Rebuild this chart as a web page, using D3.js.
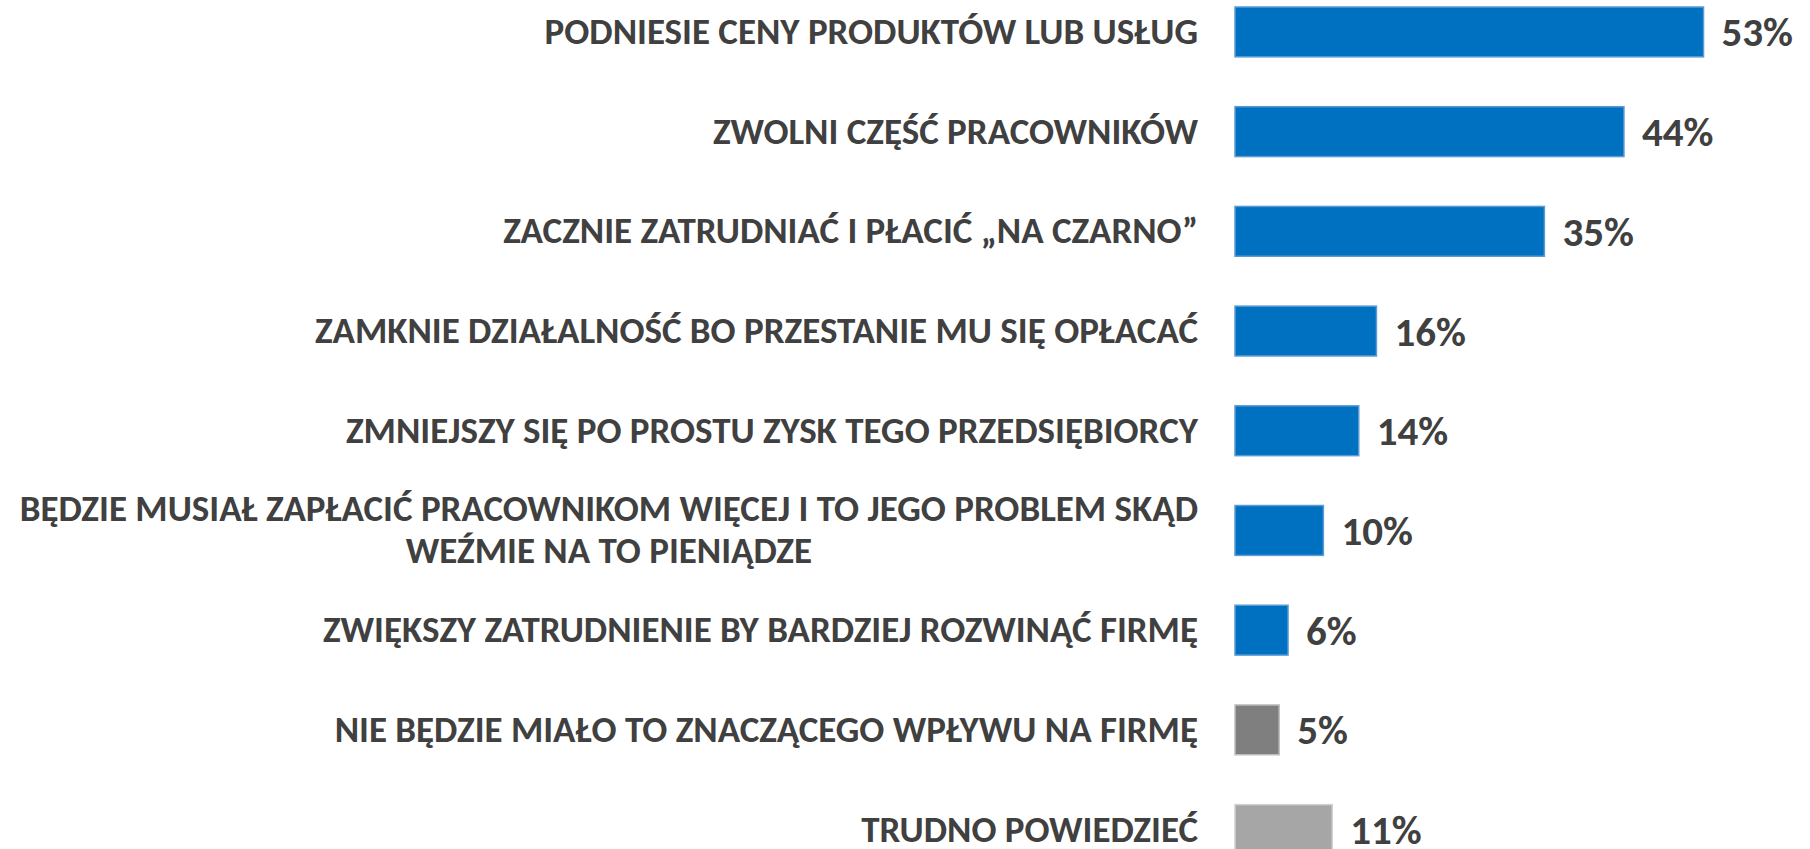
<!DOCTYPE html>
<html>
<head>
<meta charset="utf-8">
<script src="https://cdn.jsdelivr.net/npm/d3@7"></script>
<style>
  html, body { margin: 0; padding: 0; background: #ffffff; overflow: hidden; }
  svg { display: block; }
  text { font-family: Carlito, "Open Sans", Lato, sans-serif; font-weight: 700; fill: #404040; }
</style>
</head>
<body>
<svg id="chart" width="1810" height="849"></svg>
<script>
const categories = [
  ["PODNIESIE CENY PRODUKTÓW LUB USŁUG"],
  ["ZWOLNI CZĘŚĆ PRACOWNIKÓW"],
  ["ZACZNIE ZATRUDNIAĆ I PŁACIĆ „NA CZARNO”"],
  ["ZAMKNIE DZIAŁALNOŚĆ BO PRZESTANIE MU SIĘ OPŁACAĆ"],
  ["ZMNIEJSZY SIĘ PO PROSTU ZYSK TEGO PRZEDSIĘBIORCY"],
  ["BĘDZIE MUSIAŁ ZAPŁACIĆ PRACOWNIKOM WIĘCEJ I TO JEGO PROBLEM SKĄD", "WEŹMIE NA TO PIENIĄDZE"],
  ["ZWIĘKSZY ZATRUDNIENIE BY BARDZIEJ ROZWINĄĆ FIRMĘ"],
  ["NIE BĘDZIE MIAŁO TO ZNACZĄCEGO WPŁYWU NA FIRMĘ"],
  ["TRUDNO POWIEDZIEĆ"]
];
const values = [53, 44, 35, 16, 14, 10, 6, 5, 11];
const valueLabels = ["53%", "44%", "35%", "16%", "14%", "10%", "6%", "5%", "11%"];
const groups = ["blue", "blue", "blue", "blue", "blue", "blue", "blue", "dark", "light"];

const fills = { blue: "#0070C0", dark: "#7F7F7F", light: "#A6A6A6" };
const strokes = { blue: "#5B9BD5", dark: "#BFBFBF", light: "#D0D0D0" };

const svg = d3.select("#chart");
const idx = d3.range(values.length);

const x = d3.scaleLinear().domain([0, 60]).range([1235, 1235 + 60 * 8.84]);
const y = d3.scaleBand().domain(idx).range([7, 854.5]).paddingInner(0.5).paddingOuter(0);

// bars
svg.append("g").selectAll("rect")
  .data(idx)
  .join("rect")
  .attr("x", x(0))
  .attr("y", i => y(i))
  .attr("width", i => x(values[i]) - x(0))
  .attr("height", y.bandwidth())
  .attr("fill", i => fills[groups[i]])
  .attr("stroke", i => strokes[groups[i]])
  .attr("stroke-width", 1.5);

// value labels
svg.append("g").selectAll("text")
  .data(idx)
  .join("text")
  .attr("x", i => x(values[i]) + 18)
  .attr("y", i => y(i) + y.bandwidth() / 2 + 14.5)
  .attr("font-size", 41)
  .text(i => valueLabels[i]);

// category labels
const labelRight = 1198;
const lab = svg.append("g").selectAll("text")
  .data(idx)
  .join("text")
  .attr("font-size", 37)
  .attr("y", i => y(i) + y.bandwidth() / 2 + 12);

lab.each(function(i) {
  const t = d3.select(this);
  const lines = categories[i];
  if (lines.length === 1) {
    t.attr("x", labelRight).attr("text-anchor", "end").text(lines[0]);
  } else {
    const lh = 42;
    lines.forEach((ln, k) => {
      t.append("tspan")
        .attr("x", 0)
        .attr("dy", k === 0 ? -(lines.length - 1) * lh / 2 : lh)
        .attr("text-anchor", "middle")
        .text(ln);
    });
    const widths = [];
    t.selectAll("tspan").each(function() { widths.push(this.getComputedTextLength()); });
    const maxW = d3.max(widths);
    const cx = labelRight - maxW / 2;
    t.selectAll("tspan").attr("x", cx);
  }
});
</script>
</body>
</html>
